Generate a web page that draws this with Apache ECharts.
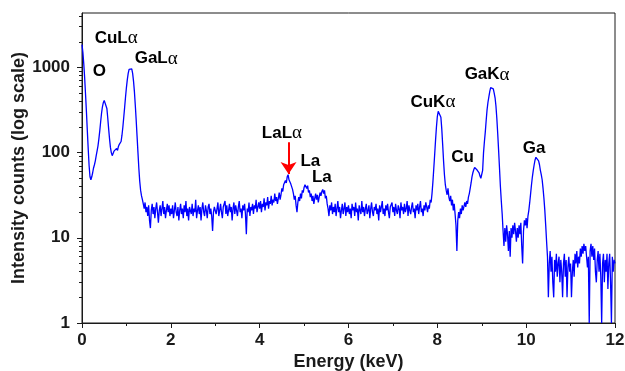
<!DOCTYPE html>
<html><head><meta charset="utf-8">
<script src="https://cdn.jsdelivr.net/npm/echarts@6/dist/echarts.min.js"></script>
<style>html,body{margin:0;padding:0;background:#fff}#c{width:625px;height:371px}</style>
</head><body><div id="c"></div>
<script>
// channel grid (keV)
const energyStart = 0;
const energyStep = 0.02;

// counts, one array per keV
const counts0to1 = [1850,1500,1100,750,480,300,180,110,70,52,
  48,52,58,66,72,80,92,105,120,145,
  180,230,290,345,385,410,415,390,330,255,
  190,145,115,100,92,96,104,100,108,112,
  106,118,125,120,135,160,200,260,340,450];
const counts1to2 = [580,720,850,950,990,1000,960,850,690,520,
  360,240,155,100,65,46,36,31,28,25,
  22,26,20,23,18,24,16,13,21,25,
  19,23,17,22,26,20,15,21,24,18,
  22,27,19,23,17,21,25,20,24,18];
const counts2to3 = [22,19,24,17,21,26,20,18,23,16,
  21,25,19,22,17,24,20,27,18,22,
  16,23,21,19,25,18,22,20,28,17,
  21,24,19,23,16,22,26,20,18,24,
  21,17,23,25,19,22,18,12,20,23];
const counts3to4 = [24,19,22,26,18,21,25,20,17,23,
  22,27,19,24,18,21,25,20,23,16,
  22,26,19,24,21,18,23,27,20,22,
  17,24,21,25,19,11,22,20,26,18,
  23,21,25,19,24,22,28,20,23,26];
const counts4to5 = [22,27,20,25,23,29,21,26,24,30,
  22,27,25,31,24,28,26,33,27,30,
  25,29,34,28,32,38,35,42,40,47,
  44,52,55,48,50,43,45,37,33,28,
  31,24,20,26,30,27,33,29,36,34];
const counts5to6 = [39,42,44,38,41,34,36,30,33,27,
  31,25,29,33,28,32,26,30,34,31,
  35,37,33,36,29,31,25,22,18,24,
  21,26,19,23,20,25,18,22,27,20,
  23,17,21,25,19,22,26,18,23,20];
const counts6to7 = [24,19,22,17,25,21,23,18,26,20,
  22,16,24,21,19,27,20,23,18,22,
  25,19,21,24,17,22,26,20,18,23,
  21,25,19,22,16,24,20,23,27,19,
  22,18,24,21,25,20,17,23,22,26];
const counts7to8 = [20,23,18,25,21,19,24,22,17,26,
  21,23,19,25,20,22,27,18,24,21,
  19,23,26,20,22,17,24,21,25,19,
  23,27,20,22,18,24,21,26,23,20,
  24,22,28,26,33,45,65,95,140,200];
const counts8to9 = [265,305,318,305,260,190,125,80,55,42,
  36,32,38,30,27,31,24,28,21,25,
  19,14,7,16,20,17,22,19,24,21,
  22,26,23,27,25,30,33,38,44,52,
  58,63,67,69,66,62,64,58,53,50];
const counts9to10 = [48,62,100,135,175,240,320,390,450,520,
  580,610,600,560,500,440,350,250,165,105,
  65,40,27,19,12,8,13,9,14,11,
  7,12,6,13,10,14,11,15,12,9,
  13,10,14,11,15,8,5,12,16,14];
const counts10to11 = [17,13,18,21,26,33,42,52,62,72,
  82,88,91,88,80,72,62,55,48,38,
  29,21,14,9,6,2,5,7,4,6,
  3,2,5.5,4,6.5,3.5,5,6,3,5.5,
  4,2,5,6.5,3.5,5.5,2,4.5,6,4];
const counts11to12 = [5,2,4,5.5,3.5,6.5,5,7,4.5,6,
  5,7.5,6,8,6.5,8.5,7,8,6,4.5,
  6,1,7,8.5,6,8,5.5,7.5,4,3,
  5.5,7,4,6.5,3.5,1,5,6.5,3,5.5,
  4,6.5,2.5,5,6.5,3,1,6,4,5.5,
  5];

const xTickStep = 2;
const yMax = 4350;
const yMajorTicks = [1, 10, 100, 1000];
const yMinorTicks = [2,3,4,5,6,7,8,9,20,30,40,50,60,70,80,90,200,300,400,500,600,700,800,900,2000,3000,4000];

// peak labels: text, greek suffix, position (keV, counts)
const labelTexts = ['CuL','O','GaL','LaL','La','La','CuK','Cu','GaK','Ga'];
const labelGreek = ['α','','α','α','','','α','','α',''];
const labelEnergy = [0.77, 0.39, 1.67, 4.50, 5.14, 5.40, 7.90, 8.57, 9.12, 10.18];
const labelCounts = [2214, 898, 1265, 170, 80, 51, 391, 88, 821, 112];
// red arrow (keV, counts)
const arrowStart = [4.65, 132];
const arrowEnd = [4.65, 56];

const allCounts = [].concat(counts0to1, counts1to2, counts2to3, counts3to4, counts4to5,
  counts5to6, counts6to7, counts7to8, counts8to9, counts9to10, counts10to11, counts11to12);
const spectrum = allCounts.map((c, i) => [+(energyStart + i * energyStep).toFixed(2), c]);
const peakLabels = labelTexts.map((t, i) => ({
  value: [labelEnergy[i], labelCounts[i]],
  label: { formatter: labelGreek[i] ? '{a|' + t + '}{g|' + labelGreek[i] + '}' : '{a|' + t + '}' }
}));

// helper tick axes work in decades (log10 of counts)
const decadeMax = Math.log10(yMax);
const majorDecades = yMajorTicks.map(v => Math.log10(v));
const minorDecades = yMinorTicks.map(v => Math.log10(v));

const axisColor = '#1a1a1a';
const tickAxis = (vals, len) => ({
  type: 'value', min: 0, max: decadeMax, position: 'left',
  axisLine: { show: false },
  axisTick: { show: true, inside: false, length: len, customValues: vals, lineStyle: { color: axisColor, width: 1 } },
  axisLabel: { show: false },
  splitLine: { show: false }
});

const chart = echarts.init(document.getElementById('c'), null, { renderer: 'canvas' });
chart.setOption({
  animation: false,
  backgroundColor: '#fff',
  grid: { left: 82, right: 10, top: 13, bottom: 48, show: true, borderColor: axisColor, borderWidth: 1,
          outerBoundsMode: 'none', containLabel: false },
  xAxis: {
    type: 'value', min: 0, max: 12, interval: xTickStep,
    name: 'Energy (keV)', nameLocation: 'middle', nameGap: 30, nameMoveOverlap: false,
    nameTextStyle: { fontFamily: 'Liberation Sans', fontWeight: 'bold', fontSize: 18, color: axisColor },
    axisLine: { lineStyle: { color: axisColor, width: 1 } },
    axisTick: { inside: false, length: 5, lineStyle: { color: axisColor } },
    minorTick: { show: true, splitNumber: 2, length: 3, lineStyle: { color: axisColor } },
    splitLine: { show: false },
    axisLabel: { margin: 9, fontFamily: 'Liberation Sans', fontWeight: 'bold', fontSize: 17, color: axisColor }
  },
  yAxis: [{
    type: 'log', logBase: 10, min: 1, max: yMax,
    name: 'Intensity counts (log scale)', nameLocation: 'middle', nameGap: 54, nameRotate: 90,
    nameMoveOverlap: false,
    nameTextStyle: { fontFamily: 'Liberation Sans', fontWeight: 'bold', fontSize: 18, color: axisColor },
    axisLine: { show: true, lineStyle: { color: axisColor, width: 1 } },
    axisTick: { show: false },
    splitLine: { show: false },
    axisLabel: {
      margin: 12, fontFamily: 'Liberation Sans', fontWeight: 'bold', fontSize: 17, color: axisColor,
      formatter: v => yMajorTicks.some(t => Math.abs(t - v) < 1e-6 * t) ? String(Math.round(v)) : ''
    }
  }, tickAxis(majorDecades, 5), tickAxis(minorDecades, 3)],
  series: [{
    type: 'line', data: spectrum, showSymbol: false, symbol: 'none',
    lineStyle: { color: '#0000ff', width: 1.3 }, clip: true, z: 2
  }, {
    type: 'scatter', data: peakLabels, symbolSize: 2,
    itemStyle: { color: 'rgba(255,255,255,0)', opacity: 1 }, silent: true, z: 3,
    emphasis: { disabled: true },
    label: {
      show: true, position: 'inside', align: 'center', verticalAlign: 'middle', opacity: 1,
      color: '#000', textBorderWidth: 0, textBorderColor: 'transparent',
      rich: {
        a: { fontFamily: 'Liberation Sans', fontWeight: 'bold', fontSize: 17, color: '#000', textBorderWidth: 0 },
        g: { fontFamily: 'Liberation Serif', fontSize: 19, color: '#000', textBorderWidth: 0 }
      }
    },
    markLine: {
      silent: true, symbol: ['none', 'arrow'], symbolSize: 12, animation: false,
      lineStyle: { color: '#ff0000', width: 2, type: 'solid' },
      label: { show: false },
      data: [[{ coord: arrowStart }, { coord: arrowEnd }]]
    }
  }]
});
</script></body></html>
